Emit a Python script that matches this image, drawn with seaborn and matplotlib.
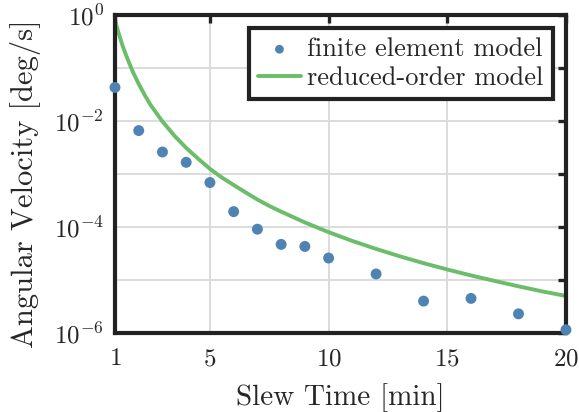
import matplotlib
matplotlib.use("Agg")
import matplotlib.pyplot as plt
import seaborn as sns
import numpy as np
import pandas as pd
from matplotlib.ticker import FixedLocator, FixedFormatter, NullLocator

# finite element model
fe_time = [1, 2, 3, 4, 5, 6, 7, 8, 9, 10, 12, 14, 16, 18, 20]
fe_vel = [4.3e-2, 6.6e-3, 2.6e-3, 1.66e-3, 6.9e-4, 1.95e-4, 9.1e-5, 4.7e-5,
          4.3e-5, 2.6e-5, 1.3e-5, 4.0e-6, 4.5e-6, 2.3e-6, 1.15e-6]

# reduced-order model
rom_time = [1, 1.1, 1.2, 1.3, 1.4, 1.5, 1.75, 2, 2.25, 2.5, 2.75, 3, 3.5, 4,
            4.5, 5, 5.5, 6, 6.5, 7, 7.5, 8, 9, 10, 11, 12, 13, 14, 15, 16,
            17, 18, 19, 20]
rom_vel = [0.80, 0.55, 0.39, 0.28, 0.21, 0.16, 0.085, 0.05, 0.031, 0.020,
           0.0140, 0.0098, 0.0053, 0.0031, 0.00195, 1.25e-3, 8.6e-4, 6.2e-4,
           4.5e-4, 3.3e-4, 2.5e-4, 1.95e-4, 1.22e-4, 8.0e-5, 5.46e-5,
           3.86e-5, 2.8e-5, 2.08e-5, 1.58e-5, 1.22e-5, 9.6e-6, 7.6e-6,
           6.1e-6, 5.0e-6]

x_ticks = [1, 5, 10, 15, 20]
y_major = [1e-6, 1e-4, 1e-2, 1e0]
y_major_labels = [r"$10^{-6}$", r"$10^{-4}$", r"$10^{-2}$", r"$10^{0}$"]
y_minor = [1e-5, 1e-3, 1e-1]

sns.set_style("white")
plt.rcParams["font.family"] = ["cmr10", "DejaVu Serif"]
plt.rcParams["mathtext.fontset"] = "cm"
plt.rcParams["axes.formatter.use_mathtext"] = True

fig = plt.figure(figsize=(5.79, 4.12), dpi=100)
ax = fig.add_axes([0.1986, 0.1917, 0.7789, 0.7719])

fe_df = pd.DataFrame({"t": fe_time, "v": fe_vel})
rom_df = pd.DataFrame({"t": rom_time, "v": rom_vel})

blue = "#4f83b3"
green = "#6bbd6a"

sns.lineplot(data=rom_df, x="t", y="v", ax=ax, color=green, lw=2.8,
             label="reduced-order model", zorder=3)
sns.scatterplot(data=fe_df, x="t", y="v", ax=ax, color=blue, s=62,
                edgecolor="none", label="finite element model", zorder=5,
                clip_on=False)

ax.set_yscale("log")
ax.set_xlim(1, 20)
ax.set_ylim(1e-6, 1e0)

ax.xaxis.set_major_locator(FixedLocator(x_ticks))
ax.xaxis.set_minor_locator(NullLocator())
ax.yaxis.set_major_locator(FixedLocator(y_major))
ax.yaxis.set_major_formatter(FixedFormatter(y_major_labels))
ax.yaxis.set_minor_locator(FixedLocator(y_minor))

ax.grid(True, which="both", color="#d9d9d9", lw=1.3)
ax.set_axisbelow(True)

for s in ax.spines.values():
    s.set_linewidth(3.0)
    s.set_color("#222222")
    s.set_zorder(4)

ax.tick_params(which="both", direction="in", top=True, right=True,
               length=6, width=2.4, color="#222222", labelsize=18, pad=8)
ax.tick_params(axis="x", pad=11)
ax.tick_params(which="minor", labelleft=False)

ax.set_xlabel("Slew Time [min]", fontsize=21, labelpad=9)
ax.set_ylabel("Angular Velocity [deg/s]", fontsize=22)
ax.yaxis.set_label_coords(-0.165, 0.47)

handles, labels = ax.get_legend_handles_labels()
order = [labels.index("finite element model"), labels.index("reduced-order model")]
leg = ax.legend([handles[i] for i in order], [labels[i] for i in order],
                loc="upper right", fontsize=19, fancybox=False, framealpha=1,
                edgecolor="#222222", borderpad=0.35, handlelength=1.6,
                handletextpad=0.25, borderaxespad=0.5, labelspacing=0.2,
                markerscale=0.8)
leg.get_frame().set_linewidth(3.0)

fig.savefig("out.png", dpi=100)
